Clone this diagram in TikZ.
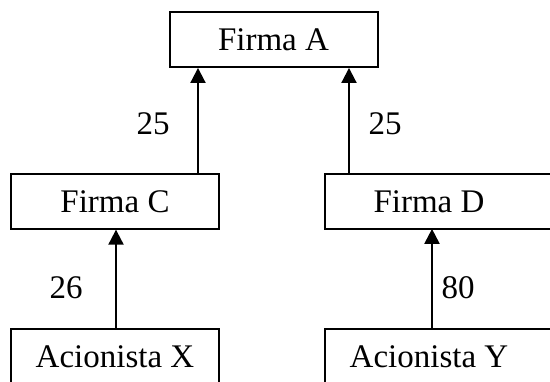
\documentclass[tikz,border=0pt]{standalone}
\usepackage{fontspec}
\setmainfont{Liberation Serif}
\usetikzlibrary{arrows.meta}
\begin{document}
\begin{tikzpicture}[x=1pt,y=-1pt,
  every node/.style={font=\fontsize{33}{40}\selectfont},
  box/.style={draw,line width=2pt,minimum width=208pt,minimum height=54.5pt,inner sep=0pt,text height=21.8pt,text depth=0pt},
  boxtext/.style={minimum width=208pt,minimum height=54.5pt,inner sep=0pt,text height=21.8pt,text depth=0pt},
  frame/.style={line width=2pt},
  arr/.style={line width=2pt,-{Triangle[width=15pt,length=15pt]}},
  lbl/.style={inner sep=0pt,text height=22.3pt,text depth=0pt}]
\useasboundingbox (0,0) rectangle (550,381);
\clip (0,0) rectangle (550,381);
\fill[white] (0,0) rectangle (550,381);
% boxes
\node[box] (A) at (273.5,39.7) {Firma A};
\node[box] (C) at (115,201.4) {Firma C};
\node[boxtext] (D) at (429,201.4) {Firma D};
\draw[frame] (D.north west) rectangle ([xshift=40pt]D.south east);
\node[boxtext] (X) at (115,356.5) {Acionista X};
\draw[frame] (X.north west) rectangle ([yshift=-10pt]X.south east);
\node[boxtext] (Y) at (429,356.5) {Acionista Y};
\draw[frame] (Y.north west) rectangle ([xshift=40pt,yshift=-10pt]Y.south east);
% arrow columns
\coordinate (c1) at (198,0);
\coordinate (c2) at (349,0);
\coordinate (c3) at (116,0);
\coordinate (c4) at (432,0);
\draw[arr] (C.north -| c1) -- (A.south -| c1);
\draw[arr] (D.north -| c2) -- (A.south -| c2);
\draw[arr] (X.north -| c3) -- (C.south -| c3);
\draw[arr] (Y.north -| c4) -- (D.south -| c4);
% labels
\node[lbl] (l1) at (153,123.7) {25};
\node[lbl] (l2) at (385,123.7) {25};
\node[lbl] (l3) at (66,287.7) {26};
\node[lbl] (l4) at (458,287.7) {80};
\end{tikzpicture}
\end{document}
